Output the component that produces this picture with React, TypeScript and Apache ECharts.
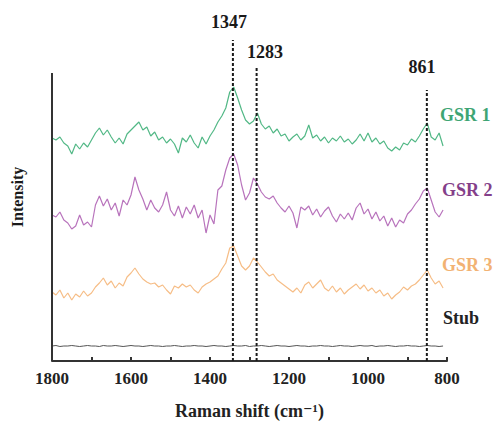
import React, { useEffect, useRef } from "react";
import * as echarts from "echarts";

// Raman shift sampling grid (cm-1), 1800 -> 810
const wavenumbers: number[] = Array.from({ length: 100 }, (_, i) => 1800 - 10 * i);

// Intensities (arbitrary units, offset traces)
const gsr1: number[] = [
  223, 221, 224, 218, 215, 207, 217, 212, 218, 214,
  221, 228, 233, 226, 231, 224, 218, 223, 217, 227,
  231, 235, 239, 231, 234, 225, 229, 221, 224, 218,
  222, 217, 208, 223, 219, 226, 218, 213, 224, 217,
  225, 231, 239, 245, 253, 269, 274, 263, 251, 241,
  237, 240, 248, 237, 232, 235, 228, 232, 225, 227,
  220, 224, 227, 221, 225, 236, 223, 226, 220, 224,
  218, 223, 220, 225, 219, 222, 217, 221, 227, 220,
  228, 219, 223, 217, 220, 213, 210, 214, 211, 218,
  216, 222, 219, 225, 232, 238, 224, 221, 228, 215,
];
const gsr2: number[] = [
  146, 144, 149, 141, 138, 132, 135, 146, 136, 139,
  134, 156, 165, 155, 162, 151, 158, 145, 161, 156,
  166, 184, 171, 162, 151, 161, 153, 149, 156, 169,
  151, 145, 155, 143, 154, 147, 156, 143, 151, 128,
  146, 137, 171, 175, 191, 203, 207, 196, 176, 161,
  168, 183, 177, 169, 164, 162, 165, 158, 153, 149,
  155, 148, 133, 154, 151, 155, 146, 152, 144, 150,
  154, 145, 139, 147, 142, 148, 141, 153, 158, 147,
  152, 142, 149, 140, 145, 135, 143, 134, 141, 138,
  147, 151, 157, 162, 170, 173, 161, 149, 144, 151,
];
const gsr3: number[] = [
  69, 66, 71, 63, 68, 61, 67, 64, 70, 65,
  68, 74, 78, 83, 76, 80, 73, 78, 75, 84,
  88, 93, 87, 82, 79, 77, 78, 74, 76, 71,
  67, 75, 73, 77, 74, 76, 71, 68, 74, 77,
  79, 82, 85, 92, 98, 113, 115, 105, 95, 91,
  95, 103, 99, 94, 89, 85, 87, 81, 78, 75,
  72, 69, 73, 68, 76, 79, 73, 77, 81, 73,
  70, 75, 69, 73, 67, 71, 74, 77, 72, 76,
  70, 73, 68, 71, 65, 68, 62, 66, 69, 74,
  71, 75, 77, 81, 86, 91, 83, 77, 80, 73,
];
const stub: number[] = [
  15, 15.5, 14.5, 15, 15, 15.5, 15, 14.5, 15, 15.5,
  15, 15, 14.5, 15.5, 15, 15, 15.5, 15, 14.5, 15,
  15.5, 15, 15, 14.5, 15, 15.5, 15, 15, 14.5, 15,
  15, 15.5, 15, 14.5, 15, 15, 15.5, 15, 15, 14.5,
  15, 15.5, 15, 15, 14.5, 15, 15.5, 15, 15, 15.5,
  14.5, 15, 15, 15.5, 15, 14.5, 15, 15.5, 15, 15,
  14.5, 15, 15.5, 15, 15, 14.5, 15, 15, 15.5, 15,
  15, 14.5, 15, 15.5, 15, 15, 14.5, 15, 15.5, 15,
  15, 15.5, 14.5, 15, 15, 15.5, 15, 14.5, 15, 15,
  15.5, 15, 15, 14.5, 15, 15.5, 15, 15, 14.5, 15,
];

// Peak guide lines
const peakPositions: number[] = [1342, 1282, 851];
const peakTops: number[] = [321, 294, 271];
const peakLabels: string[] = ["1347", "1283", "861"];

const xTicks = { min: 800, max: 1800, interval: 200 };
const yRange = { min: 0, max: 321, axisTop: 288 };

const seriesNames = ["GSR 1", "GSR 2", "GSR 3", "Stub"];
const lineColors = ["#52b886", "#b873bc", "#f6bd86", "#555555"];
const labelColors = ["#3ea574", "#843f8a", "#f2b273", "#222222"];

const SERIF = "'Liberation Serif', 'Times New Roman', 'DejaVu Serif', serif";

export default function App() {
  const ref = useRef<HTMLDivElement>(null);

  useEffect(() => {
    if (!ref.current) return;
    const chart = echarts.init(ref.current, undefined, { renderer: "svg" });
    const traces = [gsr1, gsr2, gsr3, stub];

    const spectraSeries = traces.map((vals, k) => ({
      name: seriesNames[k],
      type: "line" as const,
      data: vals.map((v, i) => [wavenumbers[i], v]),
      showSymbol: false,
      symbol: "none",
      lineStyle: { color: lineColors[k], width: k === 3 ? 1 : 1.2 },
      z: 3,
    }));

    const peakSeries = peakPositions.map((p, k) => ({
      name: "peak " + peakLabels[k],
      type: "line" as const,
      data: [
        [p, 0],
        [p, peakTops[k]],
      ],
      symbol: "none",
      clip: false,
      lineStyle: { color: "#1a1a1a", width: 2, type: [3, 2] as any },
      z: 4,
    }));

    const leftAxis = {
      name: "yaxis",
      type: "line" as const,
      data: [
        [1800, 0],
        [1800, yRange.axisTop],
      ],
      symbol: "none",
      clip: false,
      lineStyle: { color: "#333", width: 2 },
      z: 5,
    };

    const labelFont = `bold 18px ${SERIF}`;
    const peakLabelPos = [
      [229, 22],
      [265, 52],
      [422, 67],
    ];
    const nameLabelPos = [
      [440, 115],
      [442, 190],
      [442, 265],
      [443, 318],
    ];

    chart.setOption({
      animation: false,
      backgroundColor: "#ffffff",
      grid: {
        left: 52,
        right: 48,
        top: 40,
        bottom: 62,
        containLabel: false,
        outerBoundsMode: "none",
      } as any,
      xAxis: {
        type: "value",
        inverse: true,
        min: xTicks.min,
        max: xTicks.max,
        interval: xTicks.interval,
        name: "Raman shift (cm\u207B\u00B9)",
        nameLocation: "middle",
        nameGap: 41,
        nameTextStyle: { fontFamily: SERIF, fontWeight: "bold", fontSize: 18, color: "#222" },
        axisLine: { show: true, lineStyle: { color: "#333", width: 2 } },
        axisTick: { show: true, inside: true, length: 4, lineStyle: { color: "#333", width: 2 } },
        minorTick: { show: true, splitNumber: 2, length: 4, lineStyle: { color: "#333", width: 2 } },
        axisLabel: {
          fontFamily: SERIF,
          fontWeight: "bold",
          fontSize: 17,
          color: "#222",
          margin: 9,
          formatter: (v: number) => String(v),
        },
        splitLine: { show: false },
        minorSplitLine: { show: false },
      },
      yAxis: {
        type: "value",
        min: yRange.min,
        max: yRange.max,
        axisLine: { show: false },
        axisTick: { show: false },
        axisLabel: { show: false },
        splitLine: { show: false },
      },
      series: [...spectraSeries, ...peakSeries, leftAxis],
      graphic: [
        ...peakLabels.map((t, k) => ({
          type: "text",
          x: peakLabelPos[k][0],
          y: peakLabelPos[k][1],
          style: { text: t, font: labelFont, fill: "#1a1a1a", textAlign: "center", textVerticalAlign: "middle" },
        })),
        ...seriesNames.map((t, k) => ({
          type: "text",
          x: nameLabelPos[k][0],
          y: nameLabelPos[k][1],
          style: { text: t, font: labelFont, fill: labelColors[k], textAlign: "left", textVerticalAlign: "middle" },
        })),
        {
          type: "text",
          x: 17,
          y: 197,
          rotation: Math.PI / 2,
          style: {
            text: "Intensity",
            font: `bold 16px ${SERIF}`,
            fill: "#1a1a1a",
            textAlign: "center",
            textVerticalAlign: "middle",
          },
        },
      ],
    });

    return () => chart.dispose();
  }, []);

  return (
    <div
      ref={ref}
      style={{ position: "fixed", left: 0, top: 0, width: 495, height: 423, background: "#fff" }}
    />
  );
}
